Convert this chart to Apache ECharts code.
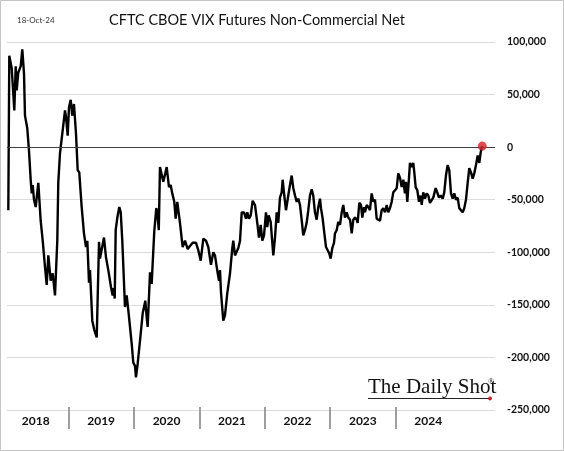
<!DOCTYPE html>
<html><head><meta charset="utf-8">
<script src="https://cdn.jsdelivr.net/npm/echarts@6.0.0/dist/echarts.min.js"></script>
<style>html,body{margin:0;padding:0;background:#fff}#c{width:564px;height:451px}</style>
</head><body><div id="c"></div>
<script>
const reportDate = '18-Oct-24';
const titleText = 'CFTC CBOE VIX Futures Non-Commercial Net';
const yearLabels = ['2018','2019','2020','2021','2022','2023','2024'];
const yMin = -250000, yMax = 100000, yStep = 50000;
// x positions in decimal years
const weekTime = [
2017.542,2017.557,2017.594,2017.634,2017.655,2017.670,2017.695,2017.732,2017.756,2017.782,
2017.797,2017.832,2017.858,2017.884,2017.900,2017.915,2017.935,2017.961,2018.001,2018.037,
2018.068,2018.103,2018.129,2018.154,2018.190,2018.221,2018.256,2018.271,2018.291,2018.306,
2018.332,2018.368,2018.409,2018.424,2018.450,2018.470,2018.496,2018.520,2018.546,2018.577,
2018.603,2018.627,2018.664,2018.699,2018.730,2018.750,2018.776,2018.791,2018.826,2018.857,
2018.894,2018.929,2018.944,2018.970,2019.005,2019.036,2019.071,2019.112,2019.138,2019.153,
2019.169,2019.184,2019.209,2019.239,2019.261,2019.285,2019.326,2019.352,2019.377,2019.429,
2019.453,2019.479,2019.494,2019.520,2019.556,2019.597,2019.637,2019.658,2019.673,2019.709,
2019.734,2019.759,2019.774,2019.805,2019.820,2019.843,2019.861,2019.887,2019.912,2019.938,
2019.964,2019.999,2020.025,2020.049,2020.080,2020.101,2020.126,2020.167,2020.208,2020.244,
2020.285,2020.320,2020.361,2020.412,2020.447,2020.484,2020.524,2020.565,2020.600,2020.641,
2020.676,2020.702,2020.744,2020.764,2020.779,2020.794,2020.829,2020.855,2020.890,2020.932,
2020.967,2020.982,2021.008,2021.034,2021.059,2021.085,2021.111,2021.146,2021.176,2021.196,
2021.222,2021.248,2021.279,2021.314,2021.349,2021.375,2021.401,2021.426,2021.452,2021.482,
2021.502,2021.523,2021.554,2021.594,2021.620,2021.646,2021.670,2021.696,2021.722,2021.737,
2021.762,2021.788,2021.823,2021.849,2021.875,2021.900,2021.926,2021.952,2021.976,2022.002,
2022.033,2022.052,2022.078,2022.104,2022.129,2022.155,2022.181,2022.205,2022.231,2022.257,
2022.282,2022.308,2022.323,2022.349,2022.373,2022.400,2022.425,2022.450,2022.471,2022.496,
2022.522,2022.537,2022.563,2022.588,2022.614,2022.640,2022.664,2022.690,2022.716,2022.741,
2022.767,2022.793,2022.817,2022.843,2022.869,2022.884,2022.909,2022.935,2022.955,2022.981,
2022.996,2023.022,2023.046,2023.072,2023.098,2023.123,2023.149,2023.175,2023.199,2023.225,
2023.251,2023.276,2023.302,2023.328,2023.352,2023.378,2023.404,2023.429,2023.455,2023.481,
2023.505,2023.531,2023.557,2023.582,2023.607,2023.623,2023.643,2023.669,2023.684,2023.710,
2023.734,2023.750,2023.771,2023.796,2023.822,2023.847,2023.863,2023.887,2023.913,2023.939,
2023.964,2023.990,2024.016,2024.040,2024.077,2024.101,2024.127,2024.153,2024.184,2024.208,
2024.234,2024.260,2024.285,2024.311,2024.337,2024.361,2024.387,2024.413,2024.438,2024.464,
2024.490,2024.514,2024.540,2024.566,2024.591,2024.617,2024.643,2024.667,2024.693,2024.719,
2024.744,2024.765,2024.789
];
// net non-commercial position, contracts
const netContracts = [
-60000,87000,75000,35000,77000,54000,71000,77000,93000,70000,
30000,18000,-3000,-31000,-44000,-36000,-50000,-57000,-34000,-70000,
-89000,-114000,-131000,-103000,-127000,-120000,-141000,-141000,-89000,-34000,
-6000,13000,35000,29000,11000,38000,45000,30000,41000,13000,
-22000,-24000,-57000,-82000,-95000,-89000,-129000,-117000,-165000,-174000,
-181000,-90000,-106000,-105000,-86000,-105000,-117000,-133000,-141000,-134000,
-144000,-79000,-67000,-57000,-62000,-89000,-152000,-141000,-155000,-187000,
-205000,-208000,-219000,-206000,-184000,-158000,-146000,-162000,-171000,-119000,
-130000,-130000,-80000,-58000,-62000,-79000,-19000,-19000,-33000,-33000,
-19000,-38000,-36000,-44000,-52000,-68000,-52000,-72000,-95000,-89000,
-97000,-94000,-91000,-91000,-98000,-108000,-87000,-89000,-95000,-112000,
-100000,-103000,-120000,-127000,-117000,-138000,-165000,-160000,-139000,-120000,
-96000,-89000,-103000,-103000,-96000,-89000,-62000,-62000,-68000,-62000,
-68000,-65000,-51000,-55000,-72000,-86000,-74000,-89000,-84000,-62000,
-76000,-65000,-71000,-103000,-86000,-62000,-72000,-48000,-43000,-31000,
-46000,-60000,-46000,-36000,-27000,-39000,-46000,-52000,-49000,-55000,
-72000,-84000,-79000,-72000,-60000,-46000,-40000,-46000,-62000,-69000,
-57000,-49000,-58000,-68000,-81000,-95000,-98000,-101000,-106000,-96000,
-91000,-82000,-79000,-71000,-74000,-62000,-55000,-67000,-62000,-67000,
-69000,-82000,-69000,-67000,-69000,-72000,-53000,-55000,-67000,-57000,
-62000,-55000,-57000,-60000,-44000,-52000,-50000,-68000,-67000,-70000,
-60000,-58000,-62000,-55000,-62000,-58000,-52000,-43000,-43000,-39000,
-25000,-29000,-38000,-31000,-44000,-33000,-52000,-29000,-15000,-19000,
-15000,-24000,-38000,-41000,-52000,-46000,-55000,-43000,-49000,-44000,
-46000,-53000,-52000,-48000,-39000,-43000,-48000,-46000,-49000,-43000,
-27000,-17000,-22000,-44000,-49000,-44000,-50000,-48000,-58000,-60000,
-62000,-58000,-50000,-34000,-20000,-24000,-30000,-25000,-17000,-8000,
-15000,-5000,1000
];

const lineData = weekTime.map((t, i) => [t, netContracts[i]]);
const lastIdx = weekTime.length - 1;
const latestPoint = [[weekTime[lastIdx], netContracts[lastIdx]]];

const chart = echarts.init(document.getElementById('c'), null, {renderer: 'canvas'});
const fmt = v => v.toLocaleString('en-US');

chart.setOption({
  animation: false,
  backgroundColor: '#ffffff',
  title: {
    text: titleText, left: 252, top: 8, textAlign: 'center',
    textStyle: {fontFamily: 'Lato', fontSize: 14.5, fontWeight: 'normal', color: '#111'}
  },
  graphic: [
    {type: 'rect', shape: {x: 0.5, y: 0.5, width: 563, height: 450}, style: {fill: 'none', stroke: '#c4c4c4', lineWidth: 1}, silent: true},
    {type: 'text', left: 17, top: 16, style: {text: reportDate, fontFamily: 'Lato', fontSize: 8, fill: '#333'}},
    {type: 'text', left: 368, top: 377, style: {text: 'The Daily Shot', fontFamily: 'Liberation Serif', fontSize: 21, fill: '#111'}},
    {type: 'text', left: 488, top: 378, style: {text: '®', fontFamily: 'Liberation Serif', fontSize: 8, fill: '#111'}},
    {type: 'line', shape: {x1: 368, y1: 398.5, x2: 489, y2: 398.5}, style: {stroke: '#222', lineWidth: 1}},
    {type: 'circle', shape: {cx: 490, cy: 398.5, r: 2}, style: {fill: '#c0262d'}}
  ],
  grid: [
    {left: 7, right: 69, top: 42, bottom: 41},
    {left: 3, right: 103, top: 407, height: 22}
  ],
  xAxis: [
    {type: 'value', gridIndex: 0, min: 2017.522, max: 2024.984, show: false},
    {type: 'category', gridIndex: 1, data: yearLabels, boundaryGap: true,
     axisLine: {show: false}, axisTick: {show: false},
     axisLabel: {margin: -14, fontFamily: 'Lato', fontSize: 12, fontWeight: 'bold', color: '#111'},
     splitLine: {show: true, showMinLine: false, showMaxLine: false, lineStyle: {color: '#7f7f7f', width: 1.5}}}
  ],
  yAxis: [
    {type: 'value', gridIndex: 0, position: 'right', min: yMin, max: yMax, interval: yStep,
     axisLine: {show: false}, axisTick: {show: false},
     axisLabel: {margin: 12, formatter: fmt, fontFamily: 'Lato', fontSize: 10.5, fontWeight: 'bold', color: '#111'},
     splitLine: {show: true, lineStyle: {color: '#dcdcdc', width: 1}}},
    {type: 'value', gridIndex: 1, show: false}
  ],
  series: [
    {type: 'line', xAxisIndex: 0, yAxisIndex: 0, data: lineData, showSymbol: false, symbol: 'none',
     lineStyle: {color: '#000', width: 2.4}, silent: true,
     markLine: {silent: true, symbol: 'none', label: {show: false},
       lineStyle: {color: '#404040', width: 1, type: 'solid'}, data: [{yAxis: 0}]}},
    {type: 'scatter', xAxisIndex: 0, yAxisIndex: 0, data: latestPoint, symbol: 'circle', symbolSize: 9,
     itemStyle: {color: '#d0202a'}, silent: true, z: 5}
  ]
});
</script></body></html>
